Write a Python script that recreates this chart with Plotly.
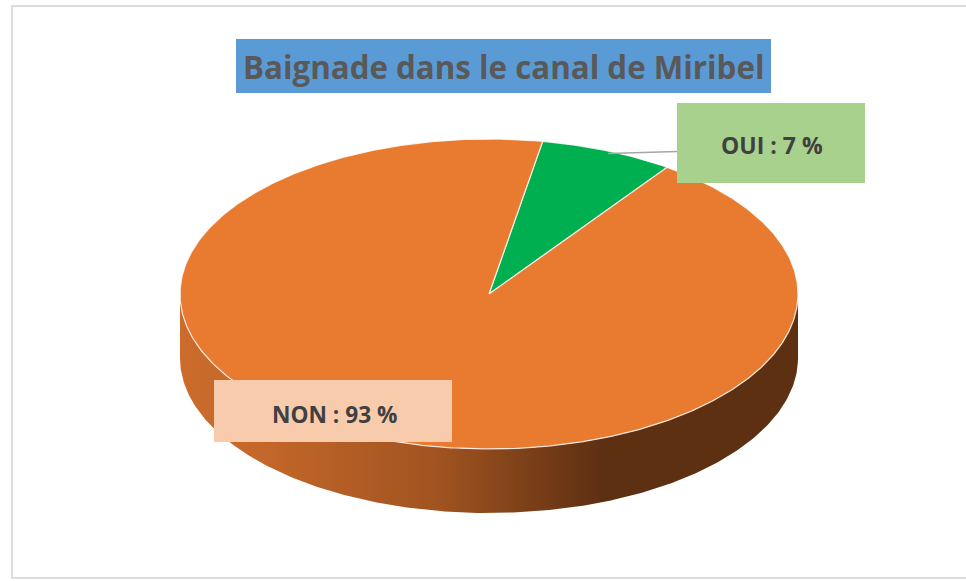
import numpy as np
import plotly.graph_objects as go

# Data
title_text = "Baignade dans le canal de Miribel"
categories = ["OUI", "NON"]
values = [7, 93]

# Style
colors = ["#00AF50", "#E97B30"]
box_colors = ["#A9D18E", "#F8CBAD"]
FONT = "Open Sans"
W, H = 966, 581
CX, CY, RX, RY, DEPTH = 489, 294, 309, 155, 64
FIRST_ANGLE = 10


def ell(t_deg, dy=0):
    t = np.radians(t_deg)
    return CX + RX * np.sin(t), CY - RY * np.cos(t) + dy


fig = go.Figure()

# Side wall: visible lower half of the cylinder
t_front = np.linspace(90, 270, 241)
x_top, y_top = ell(t_front)
x_bot, y_bot = ell(t_front[::-1], DEPTH)
fig.add_trace(go.Scatter(
    x=np.concatenate([x_top, x_bot, x_top[:1]]),
    y=np.concatenate([y_top, y_bot, y_top[:1]]),
    mode="lines", line=dict(width=0), fill="toself",
    fillgradient=dict(
        type="horizontal",
        colorscale=[[0, "#CB6C2C"], [0.13, "#C4672A"], [0.42, "#A05320"],
                    [0.68, "#5E3012"], [1, "#5E3012"]],
    ),
    hoverinfo="skip",
))

# Slices of the top face, angles derived from the values
total = sum(values)
start = FIRST_ANGLE
for cat, val, col in zip(categories, values, colors):
    sweep = 360 * val / total
    n = max(int(sweep * 2), 2)
    xs, ys = ell(np.linspace(start, start + sweep, n))
    fig.add_trace(go.Scatter(
        x=np.concatenate([[CX], xs, [CX]]),
        y=np.concatenate([[CY], ys, [CY]]),
        mode="lines", name=cat, fill="toself", fillcolor=col,
        line=dict(color="rgba(255,255,255,0.8)", width=1.25),
        hoverinfo="skip",
    ))
    start += sweep

# Leader line for the small slice
fig.add_trace(go.Scatter(
    x=[608, 677], y=[153.5, 151.5], mode="lines",
    line=dict(color="#A6A6A6", width=1.5), hoverinfo="skip",
))

shapes = [
    dict(type="rect", x0=12, y0=6, x1=975, y1=578,
         line=dict(color="#DCDCDC", width=2), fillcolor="rgba(0,0,0,0)", layer="below"),
    dict(type="rect", x0=236, y0=39, x1=771, y1=93, fillcolor="#5B9BD5", line_width=0, layer="above"),
    dict(type="rect", x0=677, y0=103, x1=865, y1=183, fillcolor=box_colors[0], line_width=0, layer="above"),
    dict(type="rect", x0=214, y0=380, x1=452, y1=442, fillcolor=box_colors[1], line_width=0, layer="above"),
]

annotations = [
    dict(x=503, y=67, text=f"<b>{title_text}</b>", showarrow=False,
         font=dict(family=FONT, size=31.3, color="#595959")),
    dict(x=772, y=145, text=f"<b>{categories[0]} : {values[0]} %</b>", showarrow=False,
         font=dict(family=FONT, size=23, color="#404040")),
    dict(x=334, y=414, text=f"<b>{categories[1]} : {values[1]} %</b>", showarrow=False,
         font=dict(family=FONT, size=22.7, color="#404040")),
]

fig.update_layout(
    width=W, height=H, margin=dict(l=0, r=0, t=0, b=0),
    paper_bgcolor="white", plot_bgcolor="white", showlegend=False,
    xaxis=dict(range=[0, W], visible=False, fixedrange=True),
    yaxis=dict(range=[H, 0], visible=False, fixedrange=True),
    shapes=shapes, annotations=annotations,
)

fig.write_html("out.html", config={"displayModeBar": False},
               post_script="document.body.style.margin='0';")
